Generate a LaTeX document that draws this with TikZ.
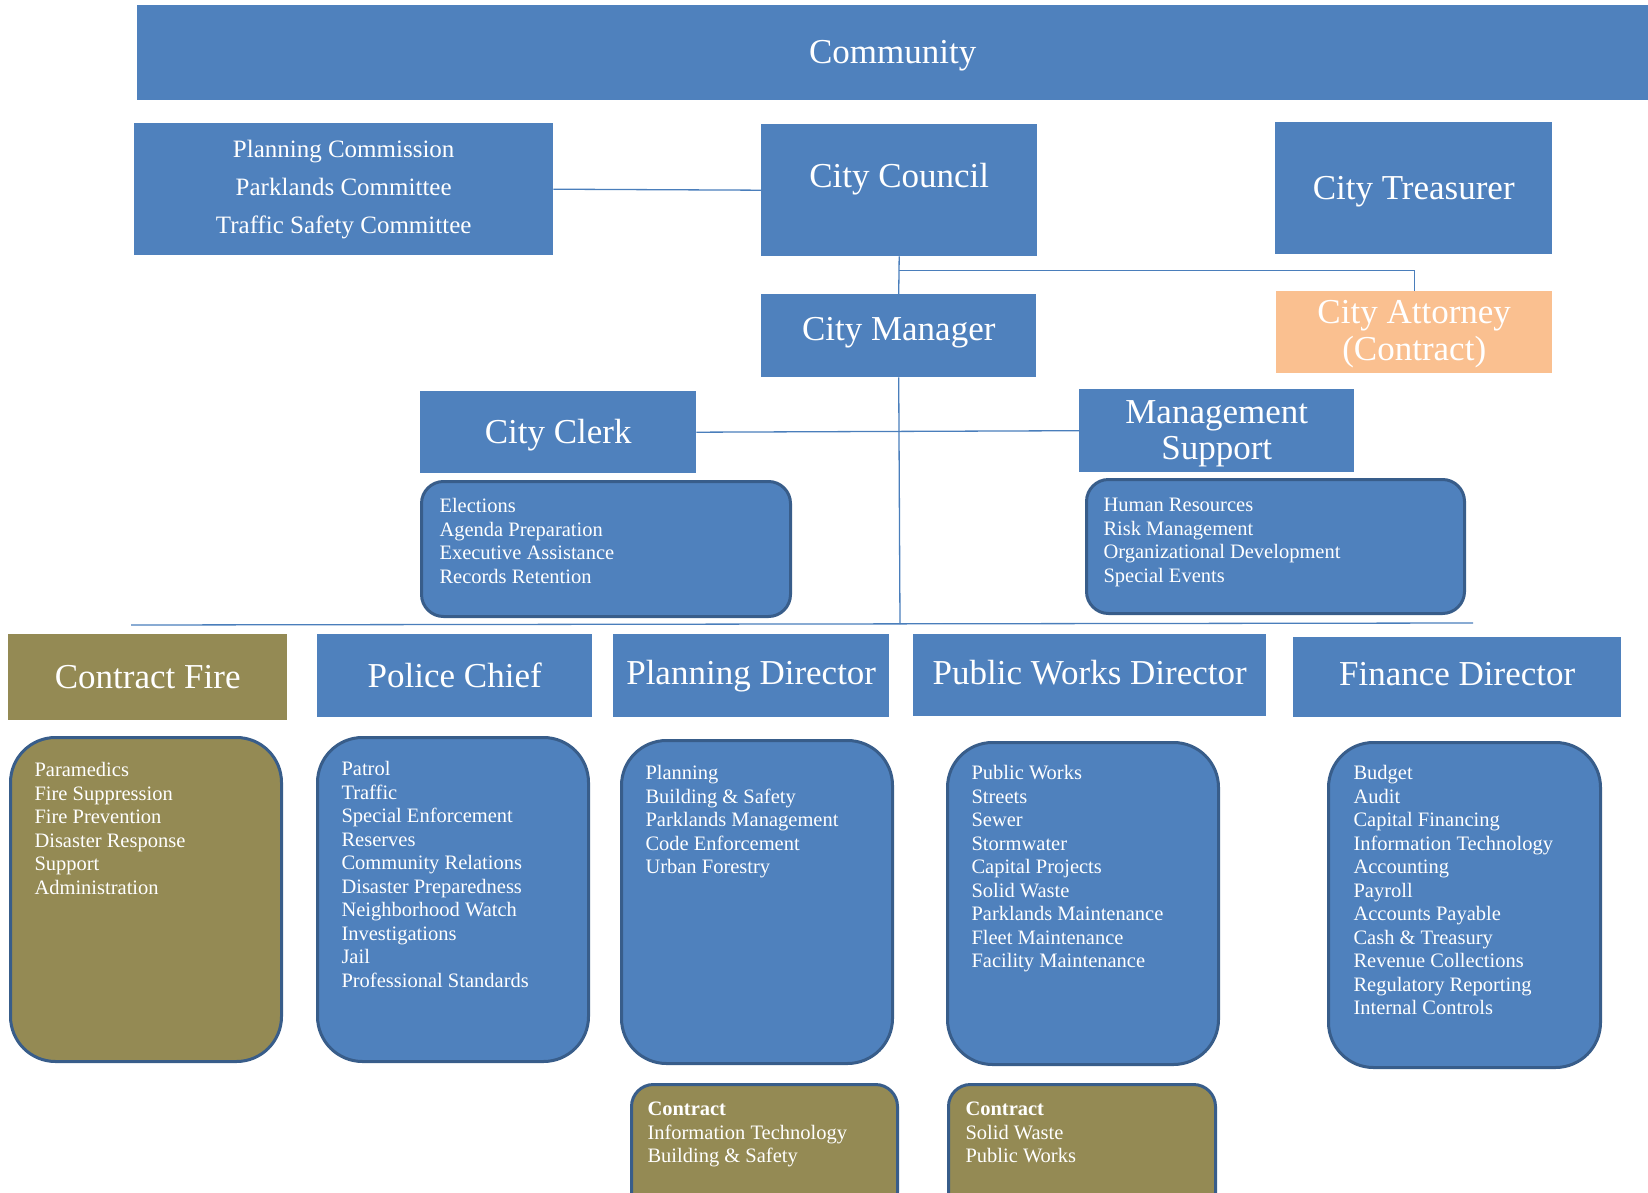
\documentclass[tikz,border=0pt]{standalone}
\usepackage{fontspec}
\setmainfont{Liberation Serif}
\usetikzlibrary{calc}

\definecolor{orgblue}{HTML}{4F81BD}
\definecolor{orgedge}{HTML}{385D8A}
\definecolor{orgolive}{HTML}{948A54}
\definecolor{orgpeach}{HTML}{FAC090}
\definecolor{orgline}{HTML}{4A7EBB}

\newcommand{\hdrfont}{\fontsize{35}{36}\selectfont}
\newcommand{\itemfont}{\fontsize{20.5}{23.5}\selectfont}
\newcommand{\boardfont}{\fontsize{25}{38}\selectfont}
% height, width, first baseline, lines
\newcommand{\duties}[4]{\parbox[c][#1pt][t]{#2pt}{\raggedright\rule{0pt}{#3pt}#4}}

\tikzset{
  hdr/.style={fill=orgblue, text=white, font=\hdrfont, inner sep=0pt, anchor=north west, align=center},
  duty/.style={draw=orgedge, line width=3pt, fill=orgblue, text=white, font=\itemfont, inner ysep=0pt, inner xsep=24pt, rounded corners=45pt, anchor=north west},
  link/.style={draw=orgline, line width=1.3pt}
}

\begin{document}
\begin{tikzpicture}[x=1pt, y=-1pt]
        \useasboundingbox (0,0) rectangle (1648,1193);
        \clip (0,0) rectangle (1648,1193);

        % top rows
        \node[hdr, minimum width=1511, minimum height=95, text depth=1pt] (community) at (137,5) {Community};
        \node[hdr, font=\boardfont, minimum width=419, minimum height=132] (boards) at (134,123) {Planning Commission\\Parklands Committee\\Traffic Safety Committee};
        \node[hdr, minimum width=276, minimum height=132, text height=24pt, text depth=30pt] (council) at (761,124) {City Council};
        \node[hdr, minimum width=277, minimum height=132, text depth=1pt] (treasurer) at (1275,122) {City Treasurer};
        \node[hdr, minimum width=275, minimum height=83, text height=24pt, text depth=15pt] (manager) at (761,294) {City Manager};
        \node[hdr, fill=orgpeach, font=\fontsize{35}{37}\selectfont, minimum width=276, minimum height=82, text depth=4pt] (attorney) at (1276,291) {City Attorney\\(Contract)};
        \node[hdr, minimum width=276, minimum height=82, text depth=2pt] (clerk) at (420,391) {City Clerk};
        \node[hdr, minimum width=275, minimum height=83, text depth=1pt] (support) at (1079,389) {Management\\Support};

        \node[duty, inner xsep=18pt, rounded corners=22pt] (clerkduties) at (420,480) {\duties{135}{333}{31}{Elections\\Agenda Preparation\\Executive Assistance\\Records Retention}};
        \node[duty, inner xsep=17pt, rounded corners=22pt] (supportduties) at (1085,478) {\duties{134}{344}{32}{Human Resources\\Risk Management\\Organizational Development\\Special Events}};

        % departments
        \node[hdr, fill=orgolive, minimum width=279, minimum height=86] (fire) at (8,634) {Contract Fire};
        \node[hdr, minimum width=275, minimum height=83] (police) at (317,634) {Police Chief};
        \node[hdr, minimum width=276, minimum height=83] (planning) at (613,634) {Planning Director};
        \node[hdr, minimum width=353, minimum height=82, text depth=6pt] (works) at (913,634) {Public Works Director};
        \node[hdr, minimum width=328, minimum height=80, text depth=6pt] (finance) at (1293,637) {Finance Director};

        \node[duty, fill=orgolive] (fireduties) at (9,736) {\duties{324}{223}{39}{Paramedics\\Fire Suppression\\Fire Prevention\\Disaster Response\\Support\\Administration}};
        \node[duty] (policeduties) at (316,736) {\duties{324}{223}{38}{Patrol\\Traffic\\Special Enforcement\\Reserves\\Community Relations\\Disaster Preparedness\\Neighborhood Watch\\Investigations\\Jail\\Professional Standards}};
        \node[duty] (planningduties) at (620,739) {\duties{323}{223}{39}{Planning\\Building \& Safety\\Parklands Management\\Code Enforcement\\Urban Forestry}};
        \node[duty] (worksduties) at (946,741) {\duties{322}{223}{37}{Public Works\\Streets\\Sewer\\Stormwater\\Capital Projects\\Solid Waste\\Parklands Maintenance\\Fleet Maintenance\\Facility Maintenance}};
        \node[duty, inner xsep=25pt] (financeduties) at (1327,741) {\duties{325}{222}{37}{Budget\\Audit\\Capital Financing\\Information Technology\\Accounting\\Payroll\\Accounts Payable\\Cash \& Treasury\\Revenue Collections\\Regulatory Reporting\\Internal Controls}};

        \node[duty, fill=orgolive, inner xsep=16pt, rounded corners=22pt] (planningcontract) at (630,1083) {\duties{130}{234}{31}{\textbf{Contract}\\Information Technology\\Building \& Safety}};
        \node[duty, fill=orgolive, inner xsep=17pt, rounded corners=22pt] (workscontract) at (947,1083) {\duties{130}{233}{31}{\textbf{Contract}\\Solid Waste\\Public Works}};

        % connectors
        \coordinate (split) at ($(council.south)+(0,14)$);
        \coordinate (busL) at (131,625);
        \coordinate (busR) at (1473,623);
        \coordinate (busM) at (900,624);
        \draw[link] (boards.east) -- (council.west);
        \draw[link] (council.south) -- (manager.north);
        \draw[link] (split) -| (attorney.north);
        \draw[link] (manager.south) -- (busM);
        \draw[link] (clerk.east) -- (support.west);
        \draw[link] (busL) -- (busR);
    \end{tikzpicture}
\end{document}
